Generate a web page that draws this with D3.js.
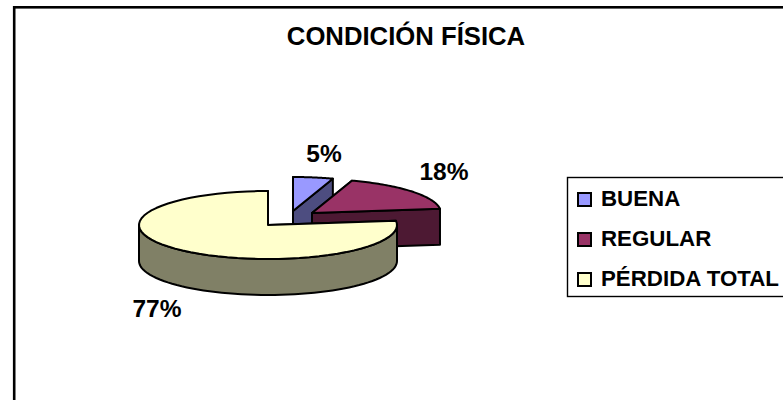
<!DOCTYPE html>
<html>
<head>
<meta charset="utf-8">
<script src="https://cdn.jsdelivr.net/npm/d3@7"></script>
<style>
  html, body { margin: 0; padding: 0; background: #fff; overflow: hidden; }
  svg { display: block; font-family: "Liberation Sans", Arial, sans-serif; font-weight: bold; }
</style>
</head>
<body>
<div id="chart"></div>
<script>
const title = 'CONDICIÓN FÍSICA';
const categories = ['BUENA', 'REGULAR', 'PÉRDIDA TOTAL'];
const values = [5, 18, 77];
const topColors = ['#9999ff', '#993366', '#ffffcc'];
const sideColors = ['#4d4d80', '#4d1933', '#808066'];

const width = 783, height = 400;
const rx = 129, ry = 34, depth = 36;

// pie centres on the page, the first two slices are pulled out
const centers = [[293, 211], [312, 213], [268, 225]];
const labelPos = [[324, 162], [444, 180], [157, 317]];

const svg = d3.select('#chart').append('svg')
  .attr('width', width)
  .attr('height', height);

// chart frame runs off the right and bottom of the picture
svg.append('rect')
  .attr('x', 14.2).attr('y', 7.3)
  .attr('width', width + 20).attr('height', height + 20)
  .attr('fill', '#fff').attr('stroke', '#000').attr('stroke-width', 2.6);

svg.append('text')
  .attr('x', 406).attr('y', 45)
  .attr('text-anchor', 'middle')
  .attr('font-size', 25.7)
  .text(title);

const slices = d3.pie().sort(null)(values);

const line = d3.line();

// point on the tilted rim
function rim(c, a, dy = 0) {
  return [c[0] + rx * Math.sin(a), c[1] - ry * Math.cos(a) + dy];
}

function arcPoints(c, a0, a1, dy = 0) {
  return d3.range(0, 61).map(i => rim(c, a0 + (a1 - a0) * i / 60, dy));
}

const pie = svg.append('g')
  .attr('stroke', '#000')
  .attr('stroke-width', 2)
  .attr('stroke-linejoin', 'round');

slices.forEach((s, i) => {
  const c = centers[i];
  const g = pie.append('g');
  const a0 = s.startAngle, a1 = s.endAngle;

  // cut walls, only the one on the far side shows for the small slices
  const wall = a => [c, rim(c, a), rim(c, a, depth), [c[0], c[1] + depth]];
  g.append('path').attr('d', line(wall(a0)) + 'Z').attr('fill', sideColors[i]);
  g.append('path').attr('d', line(wall(a1)) + 'Z').attr('fill', sideColors[i]);

  // outer wall, the part that faces the viewer (90deg to 270deg)
  const f0 = Math.max(a0, Math.PI / 2), f1 = Math.min(a1, Math.PI * 1.5);
  if (f1 > f0) {
    const pts = arcPoints(c, f0, f1).concat(arcPoints(c, f1, f0, depth));
    g.append('path').attr('d', line(pts) + 'Z').attr('fill', sideColors[i]);
  }

  // top face
  const face = [c].concat(arcPoints(c, a0, a1));
  g.append('path').attr('d', line(face) + 'Z').attr('fill', topColors[i]);
});

svg.selectAll('text.pct')
  .data(values)
  .join('text')
  .attr('class', 'pct')
  .attr('x', (d, i) => labelPos[i][0])
  .attr('y', (d, i) => labelPos[i][1])
  .attr('text-anchor', 'middle')
  .attr('font-size', 24.5)
  .text(d => d + '%');

// legend
const legendY = d3.scalePoint().domain(categories).range([199, 279]);

svg.append('rect')
  .attr('x', 567.5).attr('y', 177.5)
  .attr('width', width).attr('height', 119)
  .attr('fill', '#fff').attr('stroke', '#000').attr('stroke-width', 1.4);

const rows = svg.selectAll('g.row')
  .data(categories)
  .join('g')
  .attr('class', 'row')
  .attr('transform', d => `translate(0,${legendY(d)})`);

rows.append('rect')
  .attr('x', 578).attr('y', -6)
  .attr('width', 13).attr('height', 13)
  .attr('fill', (d, i) => topColors[i])
  .attr('stroke', '#000').attr('stroke-width', 2);

rows.append('text')
  .attr('x', 601).attr('y', 6.8)
  .attr('font-size', 22.3)
  .text(d => d);
</script>
</body>
</html>
